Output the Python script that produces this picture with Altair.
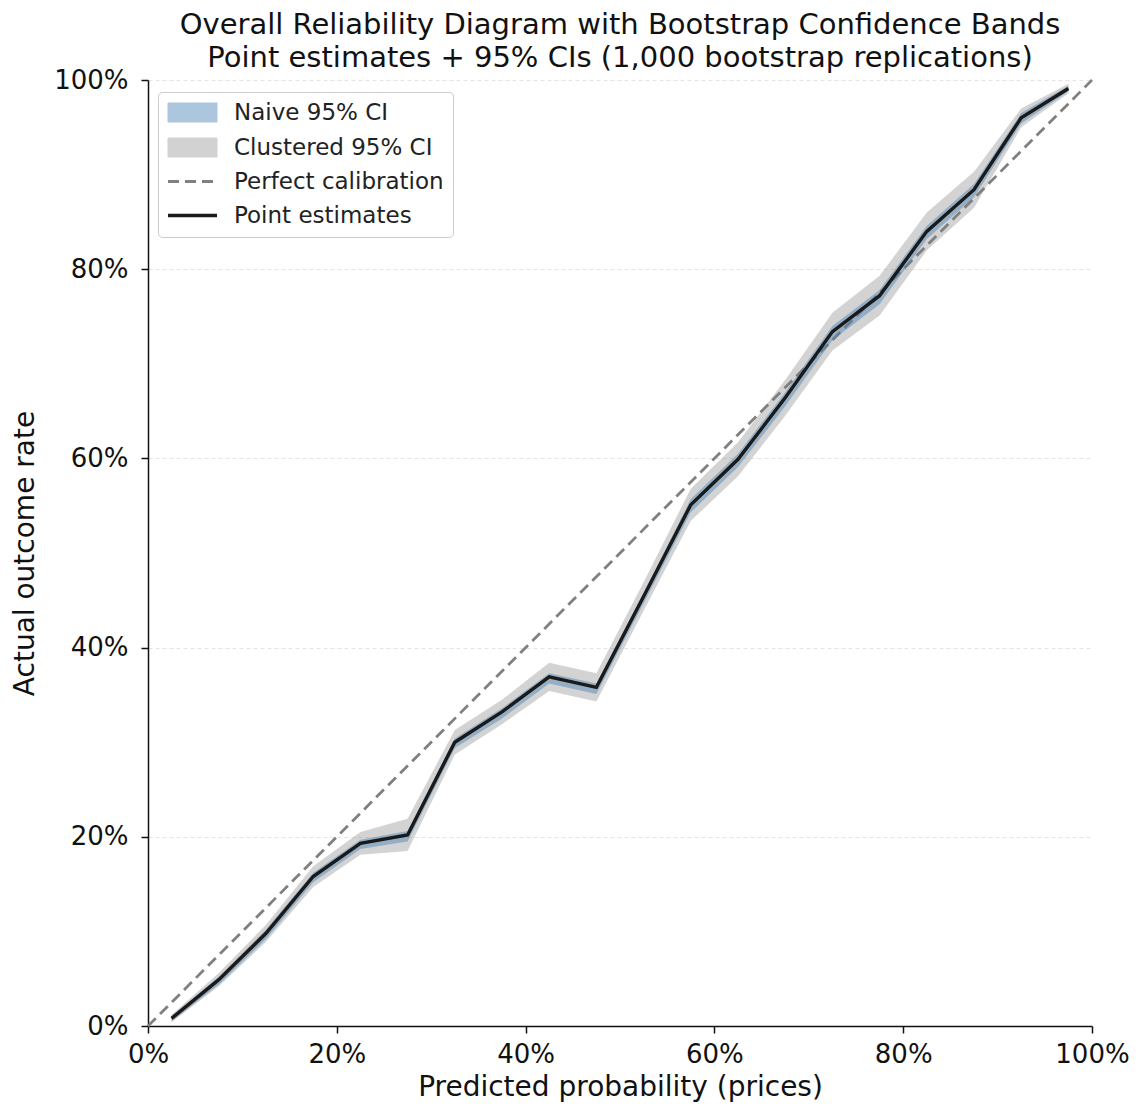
import altair as alt
import pandas as pd

# ---- data ----
bin_centers = [0.025, 0.075, 0.125, 0.175, 0.225, 0.275, 0.325, 0.375, 0.425, 0.475,
               0.525, 0.575, 0.625, 0.675, 0.725, 0.775, 0.825, 0.875, 0.925, 0.975]
point_est = [0.008, 0.049, 0.098, 0.158, 0.193, 0.202, 0.300, 0.332, 0.369, 0.358,
             0.454, 0.551, 0.599, 0.664, 0.734, 0.772, 0.840, 0.884, 0.960, 0.991]
naive_lo = [0.005, 0.044, 0.092, 0.152, 0.187, 0.195, 0.294, 0.325, 0.362, 0.351,
            0.447, 0.543, 0.591, 0.655, 0.725, 0.763, 0.832, 0.876, 0.954, 0.988]
naive_hi = [0.010, 0.052, 0.102, 0.162, 0.197, 0.206, 0.304, 0.336, 0.373, 0.362,
            0.458, 0.557, 0.605, 0.670, 0.740, 0.778, 0.846, 0.890, 0.965, 0.994]
clustered_lo = [0.004, 0.042, 0.089, 0.147, 0.181, 0.185, 0.287, 0.319, 0.354, 0.343,
                0.439, 0.534, 0.581, 0.645, 0.714, 0.751, 0.820, 0.865, 0.950, 0.986]
clustered_hi = [0.012, 0.056, 0.107, 0.169, 0.205, 0.219, 0.313, 0.345, 0.384, 0.373,
                0.469, 0.568, 0.617, 0.683, 0.754, 0.793, 0.860, 0.903, 0.970, 0.996]
diag_x = [0.0, 1.0]
diag_y = [0.0, 1.0]

tick_values = [0.0, 0.2, 0.4, 0.6, 0.8, 1.0]
series_names = ["Naive 95% CI", "Clustered 95% CI", "Perfect calibration", "Point estimates"]
series_colors = ["#4682b4", "#808080", "#808080", "#1a1a1a"]
title_lines = ["Overall Reliability Diagram with Bootstrap Confidence Bands",
               "Point estimates + 95% CIs (1,000 bootstrap replications)"]
x_title = "Predicted probability (prices)"
y_title = "Actual outcome rate"

FONT = "DejaVu Sans"

clustered = pd.DataFrame({"x": bin_centers, "lo": clustered_lo, "hi": clustered_hi,
                          "series": series_names[1]})
naive = pd.DataFrame({"x": bin_centers, "lo": naive_lo, "hi": naive_hi,
                      "series": series_names[0]})
points = pd.DataFrame({"x": bin_centers, "y": point_est, "series": series_names[3]})
diag = pd.DataFrame({"x": diag_x, "y": diag_y, "series": series_names[2]})

is_band = "(datum.value == 'Naive 95% CI' || datum.value == 'Clustered 95% CI')"
rect_path = "M-1.75,-0.68H1.75V0.68H-1.75Z"
line_path = "M-1.75,0H1.75"

legend = alt.Legend(
    title=None,
    orient="none",
    legendX=10,
    legendY=12,
    labelFont=FONT,
    labelFontSize=23,
    labelColor="#222222",
    labelLimit=400,
    labelOffset=30,
    symbolOffset=14,
    symbolSize=784,
    rowPadding=10,
    padding=9,
    strokeColor="#cccccc",
    fillColor="white",
    cornerRadius=4,
    symbolType=alt.ExprRef(expr=f"{is_band} ? '{rect_path}' : '{line_path}'"),
    symbolOpacity=alt.ExprRef(expr="datum.value == 'Naive 95% CI' ? 0.45 : (datum.value == 'Clustered 95% CI' ? 0.35 : 1)"),
    symbolStrokeWidth=alt.ExprRef(expr=f"{is_band} ? 1 : (datum.value == 'Point estimates' ? 3.4 : 2.8)"),
    symbolDash=alt.ExprRef(expr="datum.value == 'Perfect calibration' ? [11, 6] : [1, 0]"),
)

color = alt.Color("series:N", scale=alt.Scale(domain=series_names, range=series_colors),
                  legend=legend)

xscale = alt.Scale(domain=[0, 1], nice=False, zero=False)
yscale = alt.Scale(domain=[0, 1], nice=False, zero=False)

x_axis = alt.Axis(values=tick_values, format=".0%", grid=False, title=x_title,
                  labelFlush=False, labelPadding=8, titlePadding=6)
y_axis = alt.Axis(values=tick_values, format=".0%", grid=True, title=y_title,
                  gridDash=[4, 3], gridColor="#dddddd", gridWidth=0.8,
                  labelPadding=13, titlePadding=14)

X = alt.X("x:Q", scale=xscale, axis=x_axis)

diag_layer = alt.Chart(diag).mark_line(strokeDash=[11, 6], strokeWidth=2.8).encode(
    x=X, y=alt.Y("y:Q", scale=yscale, axis=y_axis), color=color)

clustered_layer = alt.Chart(clustered).mark_area(fillOpacity=0.35).encode(
    x=X, y=alt.Y("lo:Q", scale=yscale, axis=y_axis), y2="hi:Q", color=color)

naive_layer = alt.Chart(naive).mark_area(fillOpacity=0.45).encode(
    x=X, y=alt.Y("lo:Q", scale=yscale, axis=y_axis), y2="hi:Q", color=color)

point_layer = alt.Chart(points).mark_line(strokeWidth=3.4).encode(
    x=X, y=alt.Y("y:Q", scale=yscale, axis=y_axis), color=color)

chart = alt.layer(diag_layer, clustered_layer, naive_layer, point_layer).properties(
    width=944,
    height=946,
    autosize=alt.AutoSizeParams(type="none"),
    padding={"left": 140, "top": 72, "right": 42, "bottom": 80},
    title=alt.Title(text=title_lines, font=FONT, fontSize=29, fontWeight="normal",
                    color="#111111", lineHeight=33, anchor="middle", frame="group",
                    offset=-6),
).configure_view(stroke=None).configure_axis(
    labelFont=FONT, labelFontSize=26, labelColor="#111111",
    titleFont=FONT, titleFontSize=28, titleFontWeight="normal", titleColor="#111111",
    domainColor="#111111", domainWidth=1.5, tickColor="#111111", tickSize=7, tickWidth=1.5,
)

chart.save("out.html", embed_options={"renderer": "svg", "actions": False})
